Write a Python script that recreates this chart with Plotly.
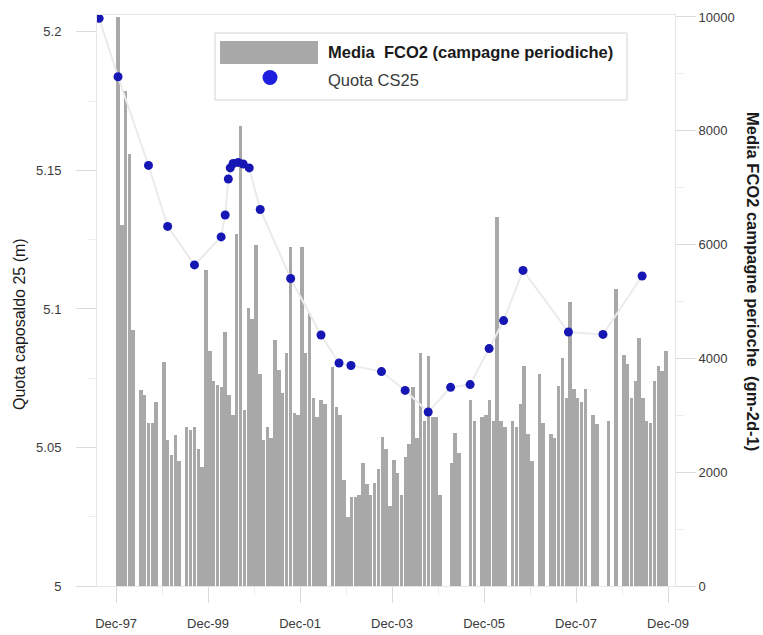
import plotly.graph_objects as go
import pandas as pd

# Monthly mean CO2 flux from the periodic survey campaigns (g m-2 d-1), Dec 1997 .. Nov 2009
fco2 = [
    10000, 6350, 8700, 7600, 4500, 0, 3450, 3350, 2860, 2860, 3230, 0,
    3940, 2560, 2300, 2650, 2200, 0, 2800, 2750, 2800, 2400, 2100, 5550,
    4130, 3600, 3530, 3500, 4460, 3350, 3000, 6180, 8080, 3100, 4880, 4700,
    5990, 3730, 2570, 2800, 2600, 4320, 3800, 3400, 4100, 5960, 3040, 3000,
    5960, 4100, 4800, 3300, 2970, 3270, 3200, 0, 3850, 3150, 3000, 1860,
    1210, 1560, 1560, 1600, 2160, 1800, 1600, 1810, 2050, 2620, 2400, 1400,
    2210, 1990, 1600, 2270, 2500, 3500, 2600, 4100, 2900, 4050, 2970, 2970,
    1600, 0, 0, 2160, 2690, 2340, 0, 0, 3270, 2900, 0, 2970,
    3000, 3270, 2900, 6480, 2900, 2800, 0, 2900, 2800, 3200, 3860, 2670,
    2200, 0, 3730, 2870, 0, 2670, 2600, 3520, 4000, 3300, 4990, 3460,
    3300, 3230, 3460, 0, 3000, 2840, 0, 0, 2900, 0, 5220, 0,
    4060, 3900, 3300, 3600, 4360, 3300, 2900, 2860, 3600, 3860, 3770, 4130,
]
fco2_months = pd.date_range("1997-12-01", periods=len(fco2), freq="MS") + pd.Timedelta(days=14)

# Levelling of benchmark CS25 (m)
quota_dates = [
    "1997-07-19", "1997-12-16", "1998-08-15", "1999-01-14", "1999-08-15",
    "2000-03-14", "2000-04-15", "2000-05-10", "2000-05-25", "2000-06-17",
    "2000-07-27", "2000-09-05", "2000-10-23", "2001-01-18", "2001-09-17",
    "2002-05-16", "2002-10-06", "2003-01-09", "2003-09-08", "2004-03-14",
    "2004-09-13", "2005-03-10", "2005-08-12", "2006-01-10", "2006-05-05",
    "2006-10-06", "2007-10-02", "2008-07-02", "2009-05-09",
]
quota_values = [
    5.2049, 5.1838, 5.1518, 5.1298, 5.1159,
    5.1260, 5.1339, 5.1469, 5.1509, 5.1525,
    5.1529, 5.1523, 5.1509, 5.1359, 5.1110,
    5.0906, 5.0805, 5.0796, 5.0774, 5.0706,
    5.0628, 5.0717, 5.0727, 5.0857, 5.0958,
    5.1139, 5.0917, 5.0908, 5.1119,
]

x_tick_dates = ["1997-12-01", "1999-12-01", "2001-12-01", "2003-12-01",
                "2005-12-01", "2007-12-01", "2009-12-01"]
left_ticks = [5, 5.05, 5.1, 5.15, 5.2]
left_tick_text = ["5", "5.05", "5.1", "5.15", "5.2"]
right_ticks = [0, 2000, 4000, 6000, 8000, 10000]
right_tick_text = ["0", "2000", "4000", "6000", "8000", "10000"]

bar_name = "Media  FCO2 (campagne periodiche)"
dot_name = "Quota CS25"

W, H = 763, 635
L, R, T, B = 97, 88, 15, 49
PW, PH = W - L - R, H - T - B


def px(x):
    return (x - L) / PW


def py(y):
    return (H - B - y) / PH


FONT = "Liberation Sans, Arial, sans-serif"
BAR_COLOR = "#a8a8a8"
DOT_COLOR = "#1616b4"
AX_LINE = "#e6e6e6"
TICK_COLOR = "#dadada"

fig = go.Figure()

fig.add_trace(go.Bar(
    x=fco2_months, y=fco2, yaxis="y",
    width=27 * 86400000,
    marker=dict(color=BAR_COLOR, line=dict(width=0)),
    name=bar_name, showlegend=False,
))

fig.add_trace(go.Scatter(
    x=quota_dates, y=quota_values, yaxis="y2",
    mode="lines+markers",
    line=dict(color="#ebebeb", width=2),
    marker=dict(color=DOT_COLOR, size=9),
    name=dot_name, showlegend=False,
))

axis_common = dict(
    showgrid=False, zeroline=False, automargin=False,
    showline=True, linecolor=AX_LINE, linewidth=1,
    ticks="outside", tickcolor=TICK_COLOR, tickwidth=1,
    tickfont=dict(family=FONT, size=13, color="#3a3a3a"),
)

fig.update_layout(
    width=W, height=H,
    margin=dict(l=L, r=R, t=T, b=B, pad=0, autoexpand=False),
    paper_bgcolor="white", plot_bgcolor="white",
    bargap=0,
    xaxis=dict(
        type="date",
        range=["1997-07-02", "2010-01-25"],
        tickvals=x_tick_dates, tickformat="%b-%y",
        ticklen=16, mirror=True, ticklabelstandoff=9,
        minor=dict(ticks="outside", ticklen=8, tickcolor="#ececec",
                   tick0="1997-12-01", dtick="M12"),
        **axis_common,
    ),
    yaxis=dict(
        side="right",
        range=[0, 10035],
        tickvals=right_ticks, ticktext=right_tick_text,
        ticklen=20,
        minor=dict(ticks="outside", ticklen=8, tickcolor="#ececec", dtick=1000),
        **axis_common,
    ),
    yaxis2=dict(
        overlaying="y", side="left",
        range=[5, 5.2061],
        tickvals=left_ticks, ticktext=left_tick_text,
        ticklen=20, ticklabelstandoff=12,
        minor=dict(ticks="outside", ticklen=8, tickcolor="#ececec", dtick=0.025),
        **axis_common,
    ),
)

# Axis titles
fig.add_annotation(
    xref="paper", yref="paper", x=px(19), y=py(324),
    text="Quota caposaldo 25 (m)", textangle=-90, showarrow=False,
    xanchor="center", yanchor="middle",
    font=dict(family=FONT, size=16, color="#1a1a1a"),
)
fig.add_annotation(
    xref="paper", yref="paper", x=px(753), y=py(281),
    text="<b>Media FCO2 campagne perioche  (gm-2d-1)</b>", textangle=90,
    showarrow=False, xanchor="center", yanchor="middle",
    font=dict(family=FONT, size=16.5, color="#1a1a1a"),
)

# Legend panel
fig.add_shape(type="rect", xref="paper", yref="paper",
              x0=px(215), x1=px(627), y0=py(100), y1=py(33),
              line=dict(color="#d4d4d4", width=1), fillcolor="white", layer="above")
fig.add_shape(type="rect", xref="paper", yref="paper",
              x0=px(220), x1=px(318), y0=py(64), y1=py(41),
              line=dict(width=0), fillcolor=BAR_COLOR, layer="above")
fig.add_shape(type="circle", xref="paper", yref="paper",
              x0=px(262.5), x1=px(277.5), y0=py(85), y1=py(70),
              line=dict(width=0), fillcolor="#1e1ee0", layer="above")
fig.add_annotation(
    xref="paper", yref="paper", x=px(326), y=py(52),
    text="<b>" + bar_name + "</b>", showarrow=False,
    xanchor="left", yanchor="middle",
    font=dict(family=FONT, size=16.5, color="#1a1a1a"),
)
fig.add_annotation(
    xref="paper", yref="paper", x=px(326), y=py(80),
    text=dot_name, showarrow=False,
    xanchor="left", yanchor="middle",
    font=dict(family=FONT, size=16.5, color="#3a3a3a"),
)

fig.write_html("out.html")
